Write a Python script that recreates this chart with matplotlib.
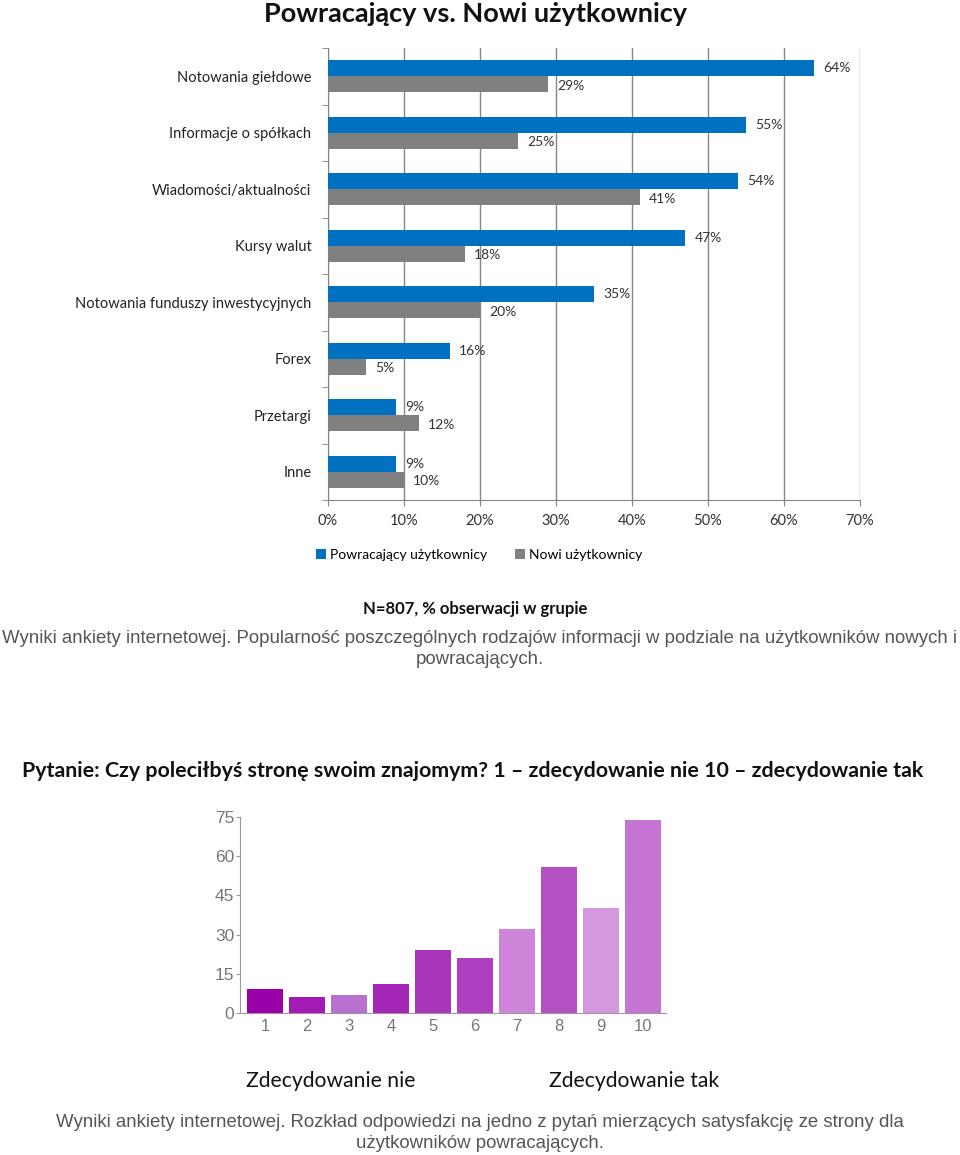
import matplotlib
matplotlib.use("Agg")
import matplotlib.pyplot as plt
import numpy as np

# dane - wykres 1
kategorie = ["Notowania giełdowe", "Informacje o spółkach", "Wiadomości/aktualności",
             "Kursy walut", "Notowania funduszy inwestycyjnych", "Forex", "Przetargi", "Inne"]
powracajacy = [64, 55, 54, 47, 35, 16, 9, 9]
nowi = [29, 25, 41, 18, 20, 5, 12, 10]
x_ticks = [0, 10, 20, 30, 40, 50, 60, 70]

# dane - wykres 2
oceny = [1, 2, 3, 4, 5, 6, 7, 8, 9, 10]
liczba = [9, 6, 7, 11, 24, 21, 32, 56, 40, 74]
kolory_ocen = ["#9a00a8", "#a31ab4", "#b76fd0", "#a426b7", "#a935bb",
               "#ad3fc0", "#cd84d9", "#b550c4", "#d597de", "#c574d3"]
y_ticks2 = [0, 15, 30, 45, 60, 75]

W, H = 960, 1155
CAL = ["Lato", "DejaVu Sans"]
ARIAL = ["Liberation Sans", "DejaVu Sans"]


def fx(px):
    return px / W


def fy(py):
    return 1 - py / H


fig = plt.figure(figsize=(W / 100, H / 100), dpi=100)
fig.patch.set_facecolor("white")

# --- wykres 1 ---
ax1 = fig.add_axes([fx(328), fy(500), fx(860) - fx(328), fy(48) - fy(500)])
pos = np.arange(len(kategorie))
h = 0.285
ax1.barh(pos - h / 2, powracajacy, height=h, color="#0070c0", zorder=3)
ax1.barh(pos + h / 2, nowi, height=h, color="#808080", zorder=3)
for i, (a, b) in enumerate(zip(powracajacy, nowi)):
    ax1.text(a + 1.2, i - h / 2, f"{a}%", va="center", ha="left",
             fontsize=10, family=CAL, color="#333333")
    ax1.text(b + 1.2, i + h / 2 + 0.03, f"{b}%", va="center", ha="left",
             fontsize=10, family=CAL, color="#333333")
ax1.set_xlim(0, 70)
ax1.set_ylim(len(kategorie) - 0.5, -0.5)
ax1.set_xticks(x_ticks)
ax1.set_xticklabels([f"{t}%" for t in x_ticks], family=CAL, fontsize=10.5, color="#333333")
ax1.set_yticks(pos)
ax1.set_yticklabels(kategorie, family=CAL, fontsize=10.5, color="#222222")
ax1.set_yticks(np.arange(-0.5, len(kategorie)), minor=True)
ax1.tick_params(axis="y", which="major", length=0, pad=12)
ax1.tick_params(axis="y", which="minor", length=4, color="#868686")
ax1.tick_params(axis="x", length=4, color="#868686", pad=6)
ax1.grid(axis="x", color="#868686", linewidth=1, zorder=0)
for s in ["top", "right"]:
    ax1.spines[s].set_visible(False)
for s in ["left", "bottom"]:
    ax1.spines[s].set_color("#868686")

fig.text(fx(475), fy(14), "Powracający vs. Nowi użytkownicy", ha="center", va="center",
         fontsize=19.5, fontweight="bold", family=CAL, color="#111111")
fig.legend(["Powracający użytkownicy", "Nowi użytkownicy"], loc="center",
           bbox_to_anchor=(fx(479), fy(555)), ncol=2, frameon=False,
           prop={"family": CAL, "size": 10}, handlelength=0.7, handleheight=0.7,
           columnspacing=2.0, handletextpad=0.3)
fig.text(fx(475), fy(609), "N=807, % obserwacji w grupie", ha="center", va="center",
         fontsize=12, fontweight="bold", family=CAL, color="#111111")
fig.text(fx(480), fy(649),
         "Wyniki ankiety internetowej. Popularność poszczególnych rodzajów informacji w podziale na użytkowników nowych i\npowracających.",
         ha="center", va="center", fontsize=13.4, family=ARIAL, color="#555555", linespacing=1.3)

# --- wykres 2 ---
ax2 = fig.add_axes([fx(240), fy(1013), fx(666) - fx(240), fy(817) - fy(1013)])
ax2.bar(oceny, liczba, width=0.86, color=kolory_ocen, zorder=3)
ax2.set_xlim(0.405, 10.55)
ax2.set_ylim(0, 75)
ax2.set_xticks(oceny)
ax2.set_xticklabels([str(o) for o in oceny], family=ARIAL, fontsize=12, color="#777777")
ax2.set_yticks(y_ticks2)
ax2.set_yticklabels([str(t) for t in y_ticks2], family=ARIAL, fontsize=12.5, color="#777777")
ax2.tick_params(axis="x", length=0, pad=4)
ax2.tick_params(axis="y", length=3, color="#999999", pad=1)
for s in ["top", "right"]:
    ax2.spines[s].set_visible(False)
for s in ["left", "bottom"]:
    ax2.spines[s].set_color("#999999")

fig.text(fx(473), fy(771),
         "Pytanie: Czy poleciłbyś stronę swoim znajomym? 1 – zdecydowanie nie 10 – zdecydowanie tak",
         ha="center", va="center", fontsize=15.4, fontweight="bold", family=CAL, color="#111111")
fig.text(fx(331), fy(1081), "Zdecydowanie nie", ha="center", va="center",
         fontsize=15.2, family=CAL, color="#111111")
fig.text(fx(634), fy(1081), "Zdecydowanie tak", ha="center", va="center",
         fontsize=15.2, family=CAL, color="#111111")
fig.text(fx(480), fy(1133),
         "Wyniki ankiety internetowej. Rozkład odpowiedzi na jedno z pytań mierzących satysfakcję ze strony dla\nużytkowników powracających.",
         ha="center", va="center", fontsize=13.4, family=ARIAL, color="#555555", linespacing=1.3)

fig.savefig("out.png", dpi=100)
